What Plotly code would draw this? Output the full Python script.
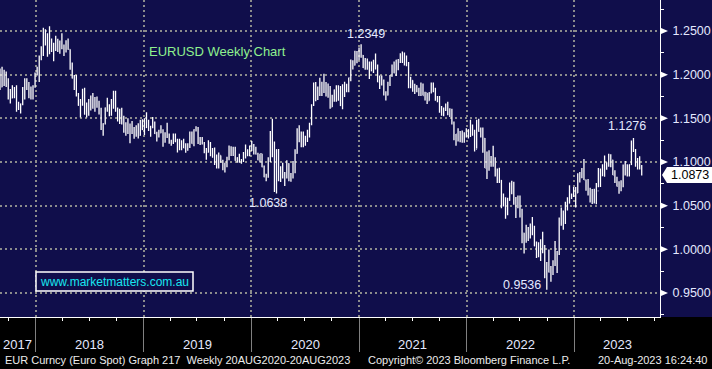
import plotly.graph_objects as go
import pandas as pd

# ---- weekly EURUSD bars (week ending Friday), Sep-2017 .. 18-Aug-2023 ----
bar_high = [
    # 2017
    1.2070, 1.2092, 1.2055, 1.2035, 1.1960, 1.1835, 1.1880, 1.1860, 1.1880, 1.1690,
    1.1670, 1.1860, 1.1960, 1.1960, 1.1915, 1.1865, 1.1880, 1.2025,
    # 2018
    1.2090, 1.2220, 1.2325, 1.2537, 1.2520, 1.2475, 1.2555, 1.2415, 1.2365, 1.2445,
    1.2410, 1.2390, 1.2475, 1.2345, 1.2395, 1.2415, 1.2290, 1.2140, 1.1995, 1.1995,
    1.1790, 1.1720, 1.1840, 1.1850, 1.1680, 1.1720, 1.1760, 1.1790, 1.1745, 1.1750,
    1.1700, 1.1620, 1.1445, 1.1625, 1.1735, 1.1660, 1.1720, 1.1815, 1.1815, 1.1625,
    1.1610, 1.1620, 1.1530, 1.1455, 1.1500, 1.1440, 1.1470, 1.1400, 1.1420, 1.1445,
    1.1485, 1.1490,
    # 2019
    1.1500, 1.1570, 1.1485, 1.1415, 1.1515, 1.1465, 1.1345, 1.1370, 1.1420, 1.1375,
    1.1340, 1.1450, 1.1325, 1.1255, 1.1325, 1.1325, 1.1265, 1.1265, 1.1250, 1.1265,
    1.1215, 1.1215, 1.1350, 1.1350, 1.1375, 1.1410, 1.1400, 1.1285, 1.1285, 1.1230,
    1.1160, 1.1250, 1.1230, 1.1160, 1.1165, 1.1085, 1.1110, 1.1075, 1.1025, 1.0990,
    1.1060, 1.1190, 1.1180, 1.1175, 1.1175, 1.1055, 1.1095, 1.1035, 1.1115, 1.1200,
    1.1145, 1.1190,
    # 2020
    1.1240, 1.1205, 1.1175, 1.1105, 1.1095, 1.1095, 1.0960, 1.0865, 1.1055, 1.1355,
    1.1495, 1.1235, 1.1145, 1.1150, 1.0950, 1.0990, 1.0885, 1.1020, 1.0985, 1.0875,
    1.1010, 1.1145, 1.1385, 1.1420, 1.1350, 1.1350, 1.1300, 1.1370, 1.1450, 1.1660,
    1.1910, 1.1915, 1.1865, 1.1965, 1.1920, 1.2010, 1.1915, 1.1900, 1.1870, 1.1770,
    1.1830, 1.1880, 1.1880, 1.1870, 1.1890, 1.1920, 1.1895, 1.1965, 1.2175, 1.2165,
    1.2275, 1.2270,
    # 2021
    1.2310, 1.2349, 1.2225, 1.2190, 1.2185, 1.2150, 1.2150, 1.2170, 1.2243, 1.2115,
    1.1990, 1.1990, 1.1945, 1.1810, 1.1920, 1.1995, 1.2115, 1.2150, 1.2170, 1.2180,
    1.2245, 1.2266, 1.2255, 1.2220, 1.2145, 1.1975, 1.1935, 1.1895, 1.1880, 1.1850,
    1.1910, 1.1900, 1.1805, 1.1790, 1.1800, 1.1910, 1.1910, 1.1850, 1.1755, 1.1755,
    1.1640, 1.1625, 1.1670, 1.1690, 1.1615, 1.1610, 1.1465, 1.1320, 1.1385, 1.1355,
    1.1360, 1.1340, 1.1385,
    # 2022
    1.1375, 1.1483, 1.1430, 1.1370, 1.1485, 1.1495, 1.1395, 1.1395, 1.1275, 1.1120,
    1.1135, 1.1070, 1.1185, 1.1055, 1.0925, 1.0935, 1.0795, 1.0640, 1.0595, 1.0590,
    1.0765, 1.0785, 1.0775, 1.0600, 1.0615, 1.0615, 1.0465, 1.0190, 1.0280, 1.0255,
    1.0295, 1.0370, 1.0270, 1.0090, 1.0080, 1.0115, 1.0200, 1.0050, 0.9855, 0.9999,
    0.9810, 0.9875, 1.0095, 0.9980, 1.0365, 1.0480, 1.0445, 1.0545, 1.0595, 1.0735,
    1.0640, 1.0715,
    # 2023
    1.0715, 1.0870, 1.0885, 1.0930, 1.1035, 1.0800, 1.0805, 1.0705, 1.0690, 1.0695,
    1.0760, 1.0930, 1.0925, 1.0975, 1.1075, 1.0995, 1.1095, 1.1090, 1.1025, 1.0905,
    1.0830, 1.0780, 1.0790, 1.0970, 1.1010, 1.0975, 1.0970, 1.1245, 1.1276, 1.1150,
    1.1045, 1.1065, 1.0965,
]

bar_low = [
    # 2017
    1.1823, 1.1855, 1.1870, 1.1860, 1.1717, 1.1670, 1.1730, 1.1730, 1.1575, 1.1595,
    1.1555, 1.1650, 1.1715, 1.1825, 1.1730, 1.1715, 1.1715, 1.1850,
    # 2018
    1.1990, 1.1915, 1.2165, 1.2215, 1.2335, 1.2205, 1.2235, 1.2260, 1.2155, 1.2270,
    1.2260, 1.2240, 1.2290, 1.2215, 1.2255, 1.2285, 1.2055, 1.1955, 1.1825, 1.1750,
    1.1645, 1.1510, 1.1645, 1.1540, 1.1510, 1.1530, 1.1590, 1.1610, 1.1575, 1.1620,
    1.1545, 1.1365, 1.1301, 1.1430, 1.1575, 1.1525, 1.1530, 1.1610, 1.1575, 1.1465,
    1.1435, 1.1430, 1.1335, 1.1300, 1.1320, 1.1215, 1.1320, 1.1265, 1.1290, 1.1270,
    1.1300, 1.1365,
    # 2019
    1.1310, 1.1390, 1.1355, 1.1290, 1.1385, 1.1320, 1.1235, 1.1280, 1.1330, 1.1175,
    1.1220, 1.1275, 1.1210, 1.1185, 1.1205, 1.1225, 1.1110, 1.1135, 1.1135, 1.1160,
    1.1105, 1.1130, 1.1160, 1.1210, 1.1180, 1.1350, 1.1205, 1.1195, 1.1200, 1.1100,
    1.1025, 1.1110, 1.1065, 1.1050, 1.0965, 1.0925, 1.0925, 1.0990, 1.0905, 1.0879,
    1.0940, 1.1020, 1.1070, 1.1070, 1.1015, 1.0990, 1.0990, 1.0980, 1.1000, 1.1040,
    1.1065, 1.1065,
    # 2020
    1.1125, 1.1085, 1.1085, 1.1020, 1.0995, 1.0940, 1.0825, 1.0780, 1.0820, 1.1000,
    1.1055, 1.0655, 1.0638, 1.0780, 1.0770, 1.0810, 1.0725, 1.0810, 1.0780, 1.0775,
    1.0810, 1.0870, 1.1095, 1.1225, 1.1170, 1.1170, 1.1185, 1.1230, 1.1280, 1.1420,
    1.1640, 1.1695, 1.1710, 1.1755, 1.1755, 1.1790, 1.1750, 1.1735, 1.1610, 1.1630,
    1.1690, 1.1690, 1.1700, 1.1640, 1.1605, 1.1745, 1.1800, 1.1800, 1.1925, 1.2060,
    1.2105, 1.2130,
    # 2021
    1.2165, 1.2195, 1.2075, 1.2055, 1.2055, 1.1950, 1.2040, 1.2020, 1.2060, 1.1915,
    1.1835, 1.1875, 1.1760, 1.1705, 1.1760, 1.1870, 1.1975, 1.2015, 1.1985, 1.2050,
    1.2135, 1.2135, 1.2105, 1.2095, 1.1845, 1.1845, 1.1805, 1.1780, 1.1800, 1.1755,
    1.1755, 1.1760, 1.1705, 1.1665, 1.1700, 1.1785, 1.1800, 1.1700, 1.1685, 1.1565,
    1.1530, 1.1525, 1.1585, 1.1535, 1.1515, 1.1430, 1.1250, 1.1185, 1.1235, 1.1225,
    1.1220, 1.1220, 1.1280,
    # 2022
    1.1270, 1.1285, 1.1300, 1.1120, 1.1155, 1.1345, 1.1280, 1.1105, 1.0930, 1.0806,
    1.0900, 1.0945, 1.0945, 1.0835, 1.0760, 1.0760, 1.0470, 1.0490, 1.0350, 1.0390,
    1.0555, 1.0630, 1.0510, 1.0360, 1.0470, 1.0365, 1.0070, 0.9952, 1.0075, 1.0095,
    1.0125, 1.0160, 1.0035, 0.9900, 0.9910, 0.9865, 0.9955, 0.9670, 0.9536, 0.9735,
    0.9630, 0.9705, 0.9810, 0.9730, 0.9935, 1.0270, 1.0225, 1.0290, 1.0445, 1.0525,
    1.0575, 1.0600,
    # 2023
    1.0480, 1.0645, 1.0765, 1.0815, 1.0795, 1.0670, 1.0615, 1.0535, 1.0520, 1.0525,
    1.0515, 1.0710, 1.0715, 1.0840, 1.0830, 1.0910, 1.0945, 1.0940, 1.0850, 1.0760,
    1.0720, 1.0635, 1.0665, 1.0710, 1.0845, 1.0835, 1.0835, 1.0965, 1.1115, 1.0945,
    1.0915, 1.0915, 1.0845,
]

bar_close = [
    # 2017
    1.1860, 1.2035, 1.1942, 1.1950, 1.1813, 1.1732, 1.1821, 1.1785, 1.1608, 1.1608,
    1.1665, 1.1795, 1.1933, 1.1895, 1.1770, 1.1750, 1.1860, 1.2005,
    # 2018
    1.2030, 1.2200, 1.2225, 1.2425, 1.2460, 1.2250, 1.2405, 1.2295, 1.2320, 1.2307,
    1.2290, 1.2350, 1.2325, 1.2280, 1.2330, 1.2290, 1.2130, 1.1960, 1.1940, 1.1770,
    1.1650, 1.1660, 1.1770, 1.1610, 1.1655, 1.1685, 1.1745, 1.1685, 1.1720, 1.1655,
    1.1565, 1.1410, 1.1440, 1.1620, 1.1600, 1.1550, 1.1625, 1.1750, 1.1605, 1.1525,
    1.1560, 1.1510, 1.1400, 1.1385, 1.1335, 1.1415, 1.1340, 1.1315, 1.1380, 1.1305,
    1.1370, 1.1440,
    # 2019
    1.1395, 1.1470, 1.1365, 1.1405, 1.1455, 1.1325, 1.1295, 1.1335, 1.1365, 1.1235,
    1.1325, 1.1300, 1.1215, 1.1215, 1.1300, 1.1245, 1.1150, 1.1200, 1.1235, 1.1160,
    1.1205, 1.1170, 1.1335, 1.1210, 1.1370, 1.1370, 1.1225, 1.1270, 1.1220, 1.1125,
    1.1110, 1.1200, 1.1090, 1.1145, 1.0990, 1.1030, 1.1075, 1.1015, 1.0940, 1.0980,
    1.1040, 1.1145, 1.1080, 1.1165, 1.1020, 1.1050, 1.1020, 1.1015, 1.1060, 1.1120,
    1.1075, 1.1180,
    # 2020
    1.1160, 1.1120, 1.1090, 1.1025, 1.1095, 1.0945, 1.0830, 1.0845, 1.1025, 1.1285,
    1.1105, 1.0695, 1.1140, 1.0800, 1.0935, 1.0875, 1.0820, 1.0980, 1.0840, 1.0820,
    1.0900, 1.1100, 1.1290, 1.1255, 1.1180, 1.1220, 1.1245, 1.1300, 1.1430, 1.1655,
    1.1780, 1.1785, 1.1840, 1.1795, 1.1905, 1.1840, 1.1845, 1.1845, 1.1630, 1.1715,
    1.1825, 1.1720, 1.1860, 1.1645, 1.1875, 1.1835, 1.1855, 1.1965, 1.2120, 1.2110,
    1.2255, 1.2190,
    # 2021
    1.2215, 1.2220, 1.2080, 1.2170, 1.2135, 1.2045, 1.2120, 1.2120, 1.2075, 1.1915,
    1.1950, 1.1905, 1.1795, 1.1765, 1.1900, 1.1980, 1.2095, 1.2020, 1.2165, 1.2145,
    1.2180, 1.2195, 1.2165, 1.2105, 1.1865, 1.1935, 1.1865, 1.1875, 1.1805, 1.1770,
    1.1870, 1.1760, 1.1795, 1.1700, 1.1795, 1.1880, 1.1815, 1.1725, 1.1720, 1.1595,
    1.1570, 1.1600, 1.1645, 1.1560, 1.1570, 1.1445, 1.1285, 1.1320, 1.1315, 1.1315,
    1.1240, 1.1320, 1.1370,
    # 2022
    1.1360, 1.1410, 1.1345, 1.1145, 1.1450, 1.1350, 1.1320, 1.1270, 1.0930, 1.0910,
    1.1050, 1.0985, 1.1045, 1.0875, 1.0810, 1.0790, 1.0545, 1.0550, 1.0410, 1.0560,
    1.0735, 1.0720, 1.0520, 1.0495, 1.0555, 1.0425, 1.0185, 1.0085, 1.0210, 1.0225,
    1.0180, 1.0260, 1.0040, 0.9965, 0.9955, 1.0040, 1.0015, 0.9690, 0.9800, 0.9740,
    0.9720, 0.9860, 0.9965, 0.9960, 1.0355, 1.0325, 1.0400, 1.0535, 1.0530, 1.0585,
    1.0620, 1.0705,
    # 2023
    1.0645, 1.0830, 1.0855, 1.0870, 1.0795, 1.0680, 1.0695, 1.0545, 1.0635, 1.0640,
    1.0670, 1.0760, 1.0840, 1.0900, 1.0990, 1.0990, 1.1020, 1.1020, 1.0850, 1.0805,
    1.0720, 1.0710, 1.0750, 1.0940, 1.0895, 1.0910, 1.0970, 1.1230, 1.1125, 1.1015,
    1.1010, 1.0950, 1.0873,
]

first_open = 1.1920            # close of the week before the first bar
last_week = "2023-08-18"

y_tick_values = [0.95, 1.00, 1.05, 1.10, 1.15, 1.20, 1.25]
year_labels = ["2017", "2018", "2019", "2020", "2021", "2022", "2023"]

marked_values = [1.2349, 1.0638, 0.9536, 1.1276]
marked_kind = ["high", "low", "low", "high"]

title_text = "EURUSD Weekly Chart"
site_text = "www.marketmatters.com.au"
footer_left = "EUR Curncy (Euro Spot) Graph 217\u00a0\u00a0Weekly 20AUG2020-20AUG2023"
footer_mid = "Copyright\u00a9 2023 Bloomberg Finance L.P."
footer_right = "20-Aug-2023 16:24:40"

# ---------------------------------------------------------------------------
dates = pd.date_range(end=last_week, periods=len(bar_close), freq="W-FRI")
opens = [first_open] + bar_close[:-1]

NAVY = "#100e4b"
GRID = "#8c8c8c"
LABEL = "#e4e9ff"
FONT = "Liberation Sans, Arial, sans-serif"
W, H = 712, 369
ML, MR, MT, MB = 0, 52, 0, 52
PW, PH = W - ML - MR, H - MT - MB
x_range = ["2017-09-01", "2023-10-19"]
y_range = [0.9225, 1.2855]

fig = go.Figure(go.Ohlc(
    x=dates, open=opens, high=bar_high, low=bar_low, close=bar_close,
    increasing=dict(line=dict(color="white", width=1.3)),
    decreasing=dict(line=dict(color="white", width=1.3)),
    tickwidth=0.3, hoverinfo="skip",
))

shapes = [
    # navy panel behind right-hand price scale
    dict(type="rect", xref="paper", yref="paper", x0=1, x1=1.2, y0=0, y1=1,
         fillcolor=NAVY, line=dict(width=0), layer="below"),
]
for v in y_tick_values:
    shapes.append(dict(type="path", xref="paper", yref="y",
                       xsizemode="pixel", ysizemode="pixel", xanchor=1, yanchor=v,
                       path="M1,3 L8,0 L1,-3 Z", fillcolor="white", line=dict(width=0)))
# last price flag
shapes.append(dict(type="path", xref="paper", yref="y",
                   xsizemode="pixel", ysizemode="pixel", xanchor=1, yanchor=bar_close[-1],
                   path="M2,-2 L7,6 L53,6 L53,-10 L7,-10 Z",
                   fillcolor="white", line=dict(width=0)))
# website box
shapes.append(dict(type="rect", xref="paper", yref="paper",
                   x0=36 / PW, x1=193 / PW, y0=(PH - 291) / PH, y1=(PH - 272) / PH,
                   fillcolor=NAVY, line=dict(color="white", width=1.5)))

ann = []
ann.append(dict(text=title_text, xref="paper", yref="paper", x=147 / PW, y=(PH - 52) / PH,
                xanchor="left", yanchor="middle", showarrow=False,
                font=dict(family=FONT, size=13, color="#8ef08e")))
ann.append(dict(text=site_text, xref="paper", yref="paper", x=(36 + 193) / 2 / PW,
                y=(PH - 281.5) / PH, xanchor="center", yanchor="middle", showarrow=False,
                font=dict(family=FONT, size=12, color="#18e6f0")))

offsets = [(5, 10), (-9, -9), (-25, 5), (-6, 12)]
for val, kind, (dx, dy) in zip(marked_values, marked_kind, offsets):
    src = bar_high if kind == "high" else bar_low
    i = src.index(val)
    ann.append(dict(text=f"{val:.4f}", x=dates[i], y=val, xref="x", yref="y",
                    xanchor="center", yanchor="middle",
                    xshift=dx, yshift=dy, showarrow=False,
                    font=dict(family=FONT, size=12.5, color=LABEL)))

ann.append(dict(text=f"{bar_close[-1]:.4f}", xref="paper", yref="y", x=1, y=bar_close[-1],
                xanchor="center", yanchor="middle",
                xshift=30, yshift=-2, showarrow=False,
                font=dict(family=FONT, size=12.5, color="black")))

r0, r1 = pd.Timestamp(x_range[0]), pd.Timestamp(x_range[1])
for lab in year_labels:
    s = max(pd.Timestamp(f"{lab}-01-01"), r0)
    e = min(pd.Timestamp(f"{int(lab) + 1}-01-01"), r1)
    mid = s + (e - s) / 2
    ann.append(dict(text=lab, x=mid, xref="x", yref="paper", y=-(344 - PH) / PH,
                    xanchor="center", yanchor="middle", showarrow=False,
                    font=dict(family=FONT, size=13, color=LABEL)))

fy = -(360 - PH) / PH
ann.append(dict(text=footer_left, xref="paper", yref="paper", x=3 / PW, y=fy,
                xanchor="left", yanchor="middle", showarrow=False,
                font=dict(family=FONT, size=11, color="#ececec")))
ann.append(dict(text=footer_mid, xref="paper", yref="paper", x=366 / PW, y=fy,
                xanchor="left", yanchor="middle", showarrow=False,
                font=dict(family=FONT, size=11, color="#ececec")))
ann.append(dict(text=footer_right, xref="paper", yref="paper", x=709 / PW, y=fy,
                xanchor="right", yanchor="middle", showarrow=False,
                font=dict(family=FONT, size=11, color="#ececec")))

fig.update_layout(
    width=W, height=H,
    margin=dict(l=ML, r=MR, t=MT, b=MB),
    paper_bgcolor="black", plot_bgcolor=NAVY,
    showlegend=False,
    shapes=shapes, annotations=ann,
    xaxis=dict(
        type="date", range=x_range, rangeslider=dict(visible=False),
        showticklabels=False, tick0="2018-01-01", dtick="M12",
        ticks="outside", ticklen=34, tickcolor="#808080", tickwidth=1,
        showgrid=True, gridcolor=GRID, gridwidth=2, griddash="2px,3px",
        showline=True, linecolor="white", linewidth=1, zeroline=False,
        minor=dict(tick0="2017-01-01", dtick="M3", ticks="outside", ticklen=3,
                   tickcolor="white", tickwidth=1, showgrid=False),
    ),
    yaxis=dict(
        side="right", range=y_range,
        tickvals=y_tick_values, ticktext=[f"{v:.4f}" for v in y_tick_values],
        ticks="", ticklabelstandoff=9,
        tickfont=dict(family=FONT, size=12.5, color=LABEL),
        showgrid=True, gridcolor=GRID, gridwidth=2, griddash="2px,3px",
        showline=True, linecolor="white", linewidth=1, zeroline=False,
        minor=dict(tick0=0.925, dtick=0.05, ticks="outside", ticklen=3,
                   tickcolor="white", tickwidth=1, showgrid=False),
    ),
)

fig.write_html(
    "out.html",
    config={"displayModeBar": False},
    post_script="document.body.style.margin='0';document.body.style.overflow='hidden';",
)
